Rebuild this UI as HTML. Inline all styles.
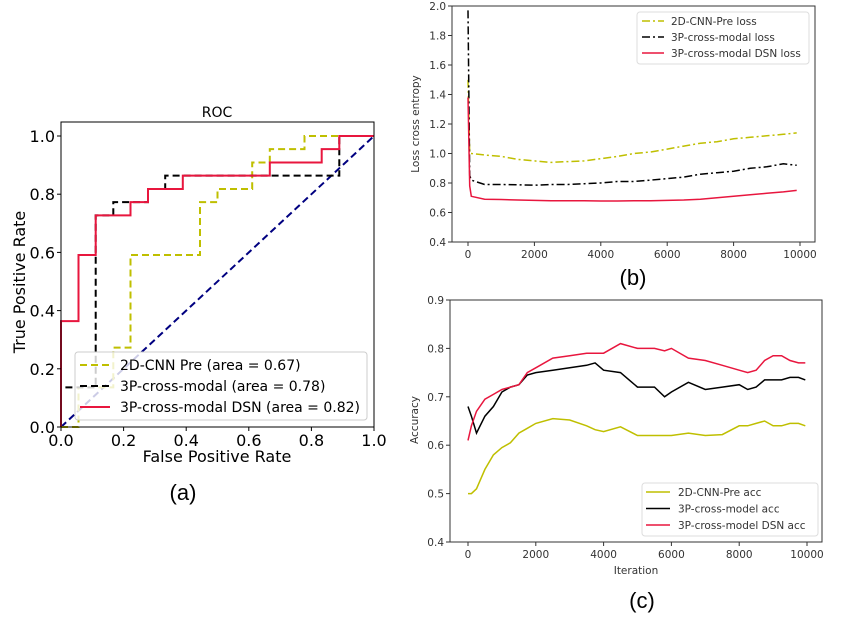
<!DOCTYPE html>
<html><head><meta charset="utf-8">
<style>
html,body{margin:0;padding:0;background:#fff;width:850px;height:622px;overflow:hidden}
svg{display:block;font-family:"DejaVu Sans","Liberation Sans",sans-serif}
</style></head>
<body>
<svg id="fig" width="850" height="622" viewBox="0 0 850 622">
  <g id="roc"></g>
  <g id="loss"></g>
  <g id="acc"></g>
  <text x="183" y="500" font-size="22" text-anchor="middle" font-family="'Liberation Sans','Noto Sans CJK JP',sans-serif">(a)</text>
  <text x="633" y="285" font-size="22" text-anchor="middle" font-family="'Liberation Sans','Noto Sans CJK JP',sans-serif">(b)</text>
  <text x="642" y="608" font-size="22" text-anchor="middle" font-family="'Liberation Sans','Noto Sans CJK JP',sans-serif">(c)</text>
</svg>
<script>
// ROC data
const rocRedX=[0,0,0.056,0.056,0.111,0.111,0.222,0.222,0.278,0.278,0.389,0.389,0.667,0.667,0.833,0.833,0.889,0.889,1];
const rocRedY=[0,0.364,0.364,0.591,0.591,0.727,0.727,0.773,0.773,0.818,0.818,0.864,0.864,0.909,0.909,0.955,0.955,1,1];
const rocBlackX=[0,0,0.111,0.111,0.167,0.167,0.222,0.222,0.278,0.278,0.333,0.333,0.889,0.889,1];
const rocBlackY=[0,0.136,0.136,0.727,0.727,0.773,0.773,0.773,0.773,0.818,0.818,0.864,0.864,1,1];
const rocYellowX=[0,0.056,0.056,0.167,0.167,0.222,0.222,0.444,0.444,0.5,0.5,0.611,0.611,0.667,0.667,0.778,0.778,1];
const rocYellowY=[0,0,0.136,0.136,0.273,0.273,0.591,0.591,0.773,0.773,0.818,0.818,0.909,0.909,0.955,0.955,1,1];
const rocTicks=[0,0.2,0.4,0.6,0.8,1.0];
const rocTickLabels=["0.0","0.2","0.4","0.6","0.8","1.0"];
// Loss data
const lossIter=[0,50,100,500,1000,1500,2000,2500,3000,3500,4000,4500,5000,5500,6000,6500,7000,7500,8000,8500,9000,9500,9900];
const lossYellow=[1.5,1.0,1.0,0.99,0.98,0.96,0.95,0.94,0.945,0.95,0.965,0.98,1.0,1.01,1.03,1.05,1.07,1.08,1.1,1.11,1.12,1.13,1.14];
const lossBlack=[1.97,0.85,0.82,0.79,0.79,0.788,0.785,0.79,0.79,0.795,0.80,0.81,0.81,0.82,0.83,0.84,0.86,0.87,0.88,0.9,0.91,0.93,0.92];
const lossRed=[1.38,0.78,0.71,0.69,0.688,0.685,0.682,0.68,0.68,0.68,0.678,0.678,0.68,0.68,0.682,0.685,0.69,0.70,0.71,0.72,0.73,0.74,0.75];
const lossYTicks=[0.4,0.6,0.8,1.0,1.2,1.4,1.6,1.8,2.0];
const iterTicks=[0,2000,4000,6000,8000,10000];
// Accuracy data
const accIter=[0,100,250,500,750,1000,1250,1500,1750,2000,2500,3000,3500,3750,4000,4500,5000,5500,5800,6000,6500,7000,7500,8000,8250,8500,8750,9000,9250,9500,9750,9950];
const accYellow=[.50,.50,.51,.55,.58,.595,.605,.625,.635,.645,.655,.652,.64,.632,.628,.638,.62,.62,.62,.62,.625,.62,.622,.64,.64,.645,.65,.64,.64,.645,.645,.64];
const accBlack=[.68,.66,.625,.66,.68,.71,.72,.725,.745,.75,.755,.76,.765,.77,.755,.75,.72,.72,.70,.71,.73,.715,.72,.725,.715,.72,.735,.735,.735,.74,.74,.735];
const accRed=[.61,.64,.67,.695,.705,.715,.72,.725,.75,.76,.78,.785,.79,.79,.79,.81,.80,.80,.795,.80,.78,.775,.765,.755,.75,.755,.775,.785,.785,.775,.77,.77];
const accYTicks=[0.4,0.5,0.6,0.7,0.8,0.9];

const NS="http://www.w3.org/2000/svg";
function mk(parent,tag,attrs,text){const e=document.createElementNS(NS,tag);for(const k in attrs)e.setAttribute(k,attrs[k]);if(text!==undefined)e.textContent=text;parent.appendChild(e);return e;}
function lin(d0,d1,r0,r1){return v=>r0+(v-d0)*(r1-r0)/(d1-d0);}
function pathD(xs,ys,sx,sy){return xs.map((x,i)=>(i?"L":"M")+sx(x).toFixed(1)+","+sy(ys[i]).toFixed(1)).join(" ");}

// ---- ROC ----
(function(){
 const g=document.getElementById('roc');
 const sx=lin(0,1,61,374), sy=lin(0,1,427,136);
 const title=mk(g,'text',{x:217,y:117,'font-size':14,'text-anchor':'middle'},'ROC');
 
 
 const diag=mk(g,'path',{d:pathD([0,1],[0,1],sx,sy),stroke:'#000080',fill:'none','stroke-width':2,'stroke-dasharray':'7,4'});
 
 
 const series=[[rocYellowX,rocYellowY,'#bfbf00','7,4','roc-2dcnn-pre'],[rocBlackX,rocBlackY,'#000','7,4','roc-3p-cross-modal'],[rocRedX,rocRedY,'#e8163e','','roc-3p-cross-modal-dsn']];
 series.forEach(s=>{const p=mk(g,'path',{d:pathD(s[0],s[1],sx,sy),stroke:s[2],fill:'none','stroke-width':2,'stroke-dasharray':s[3]});
  
  });
 const box=mk(g,'rect',{x:61,y:122,width:313,height:305,fill:'none',stroke:'#000','stroke-width':1});
 
 
 rocTicks.forEach((t,i)=>{
  mk(g,'line',{x1:sx(t),x2:sx(t),y1:427,y2:431,stroke:'#000'});
  mk(g,'line',{x1:57,x2:61,y1:sy(t),y2:sy(t),stroke:'#000'});
  const xl=mk(g,'text',{x:sx(t),y:446,'font-size':16,'text-anchor':'middle'},rocTickLabels[i]);
  
  
  const yl=mk(g,'text',{x:55,y:sy(t)+6,'font-size':16,'text-anchor':'end'},rocTickLabels[i]);
  
  
 });
 const xt=mk(g,'text',{x:217,y:462,'font-size':16,'text-anchor':'middle'},'False Positive Rate');
 
 
 const yt=mk(g,'text',{x:25,y:282,'font-size':16,'text-anchor':'middle',transform:'rotate(-90 25 282)'},'True Positive Rate');
 
 
 const lg=mk(g,'g',{});
 
 
 mk(lg,'rect',{x:75,y:352,width:292,height:68,rx:3,fill:'rgba(255,255,255,0.8)',stroke:'#ccc'});
 const items=[['#bfbf00','7,4','2D-CNN Pre (area = 0.67)'],['#000','7,4','3P-cross-modal (area = 0.78)'],['#e8163e','','3P-cross-modal DSN (area = 0.82)']];
 items.forEach((it,i)=>{const y=365+i*21;
  mk(lg,'line',{x1:80,x2:110,y1:y,y2:y,stroke:it[0],'stroke-width':2,'stroke-dasharray':it[1]});
  const t=mk(lg,'text',{x:120,y:y+5,'font-size':14},it[2]);
  
  });
})();

// ---- Loss ----
(function(){
 const g=document.getElementById('loss');
 const sx=lin(0,10000,468,800), sy=lin(0.4,2.0,242,6);
 const series=[[lossYellow,'#bfbf00','8,3,2,3','loss-2dcnn-pre'],[lossBlack,'#000','8,3,2,3','loss-3p-cross-modal'],[lossRed,'#e8163e','','loss-3p-cross-modal-dsn']];
 series.forEach(s=>{const p=mk(g,'path',{d:pathD(lossIter,s[0],sx,sy),stroke:s[1],fill:'none','stroke-width':1.5,'stroke-dasharray':s[2]});
  
  });
 const box=mk(g,'rect',{x:452,y:6,width:363,height:236,fill:'none',stroke:'#333'});
 
 
 lossYTicks.forEach(t=>{mk(g,'line',{x1:448,x2:452,y1:sy(t),y2:sy(t),stroke:'#333'});
  const l=mk(g,'text',{x:446,y:sy(t)+4,'font-size':10.5,'text-anchor':'end',fill:'#333'},t.toFixed(1));
  
  });
 iterTicks.forEach(t=>{mk(g,'line',{x1:sx(t),x2:sx(t),y1:242,y2:246,stroke:'#333'});
  const l=mk(g,'text',{x:sx(t),y:258,'font-size':10.5,'text-anchor':'middle',fill:'#333'},String(t));
  
  });
 const yt=mk(g,'text',{x:419,y:124,'font-size':10.5,'text-anchor':'middle',fill:'#333',transform:'rotate(-90 419 124)'},'Loss cross entropy');
 
 
 const lg=mk(g,'g',{});
 
 
 mk(lg,'rect',{x:637,y:12,width:172,height:52,rx:3,fill:'#fff',stroke:'#ddd'});
 [['#bfbf00','8,3,2,3','2D-CNN-Pre loss'],['#000','8,3,2,3','3P-cross-modal loss'],['#e8163e','','3P-cross-modal DSN loss']].forEach((it,i)=>{const y=21+i*16;
  mk(lg,'line',{x1:642,x2:664,y1:y,y2:y,stroke:it[0],'stroke-width':1.5,'stroke-dasharray':it[1]});
  const t=mk(lg,'text',{x:671,y:y+4,'font-size':10.5,fill:'#333'},it[2]);
  
  });
})();

// ---- Accuracy ----
(function(){
 const g=document.getElementById('acc');
 const sx=lin(0,10000,468,807), sy=lin(0.4,0.9,542,300);
 const series=[[accYellow,'#bfbf00','acc-2dcnn-pre'],[accBlack,'#000','acc-3p-cross-model'],[accRed,'#e8163e','acc-3p-cross-model-dsn']];
 series.forEach(s=>{const p=mk(g,'path',{d:pathD(accIter,s[0],sx,sy),stroke:s[1],fill:'none','stroke-width':1.5});
  
  });
 const box=mk(g,'rect',{x:450,y:300,width:372,height:242,fill:'none',stroke:'#333'});
 
 
 accYTicks.forEach(t=>{mk(g,'line',{x1:446,x2:450,y1:sy(t),y2:sy(t),stroke:'#333'});
  const l=mk(g,'text',{x:444,y:sy(t)+4,'font-size':10.5,'text-anchor':'end',fill:'#333'},t.toFixed(1));
  
  });
 iterTicks.forEach(t=>{mk(g,'line',{x1:sx(t),x2:sx(t),y1:542,y2:546,stroke:'#333'});
  const l=mk(g,'text',{x:sx(t),y:558,'font-size':10.5,'text-anchor':'middle',fill:'#333'},String(t));
  
  });
 const xt=mk(g,'text',{x:636,y:574,'font-size':10.5,'text-anchor':'middle',fill:'#333'},'Iteration');
 
 
 const yt=mk(g,'text',{x:418,y:420,'font-size':10.5,'text-anchor':'middle',fill:'#333',transform:'rotate(-90 418 420)'},'Accuracy');
 
 
 const lg=mk(g,'g',{});
 
 
 mk(lg,'rect',{x:642,y:483,width:176,height:53,rx:3,fill:'#fff',stroke:'#ddd'});
 [['#bfbf00','2D-CNN-Pre acc'],['#000','3P-cross-model acc'],['#e8163e','3P-cross-model DSN acc']].forEach((it,i)=>{const y=492+i*16.5;
  mk(lg,'line',{x1:646,x2:670,y1:y,y2:y,stroke:it[0],'stroke-width':1.5});
  const t=mk(lg,'text',{x:678,y:y+4,'font-size':10.5,fill:'#333'},it[1]);
  
  });
})();
</script>
</body></html>
